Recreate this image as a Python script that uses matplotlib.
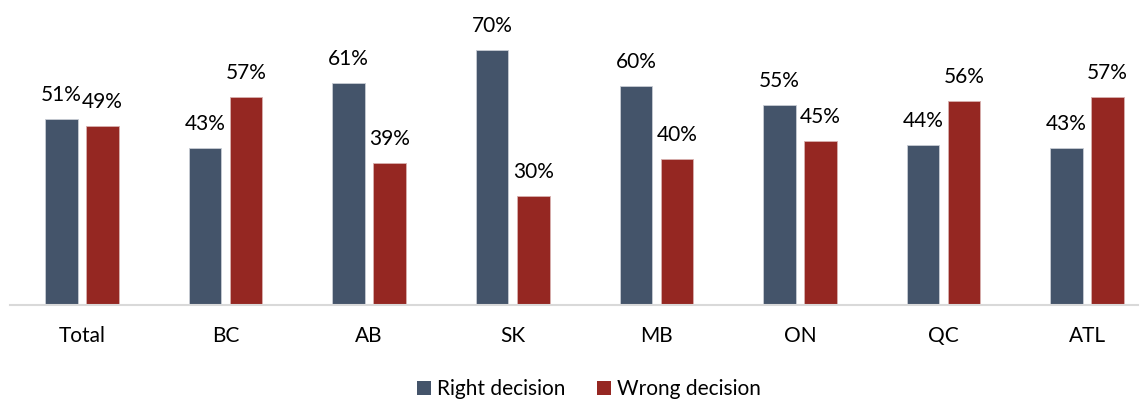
import matplotlib
matplotlib.use("Agg")
import matplotlib.pyplot as plt
from matplotlib.patches import Patch
import numpy as np

categories = ["Total", "BC", "AB", "SK", "MB", "ON", "QC", "ATL"]
right_decision = [51, 43, 61, 70, 60, 55, 44, 43]
wrong_decision = [49, 57, 39, 30, 40, 45, 56, 57]
series_names = ["Right decision", "Wrong decision"]
colors = ["#44546A", "#952722"]

plt.rcParams['font.family'] = ['Lato', 'DejaVu Sans']

FS = 15
W, H = 1148, 400
fig = plt.figure(figsize=(W / 100, H / 100), dpi=100)
# axes: left 10px, right 1138px, baseline y=305, top y=0
ax = fig.add_axes([10 / W, (H - 305) / H, 1128 / W, 305 / H])

x = np.arange(len(categories))
bw = 0.226
off = 0.143
b1 = ax.bar(x - off, right_decision, bw, color=colors[0], edgecolor="#c8ccd4", linewidth=0.6)
b2 = ax.bar(x + off, wrong_decision, bw, color=colors[1], edgecolor="#d8b0ae", linewidth=0.6)

for bars, vals in ((b1, right_decision), (b2, wrong_decision)):
    for rect, v in zip(bars, vals):
        ax.annotate(f"{v}%", (rect.get_x() + rect.get_width() / 2, rect.get_height()),
                    xytext=(0, 13), textcoords="offset points",
                    ha="center", va="baseline", fontsize=FS, color="#000000")

ax.set_xlim(-0.501, 7.354)
ax.set_ylim(0, 83.7)
ax.set_xticks(x)
ax.set_xticklabels(categories, fontsize=FS)
ax.tick_params(axis="x", length=0, pad=15)
ax.set_yticks([])
for s in ["top", "right", "left"]:
    ax.spines[s].set_visible(False)
ax.spines["bottom"].set_color("#d9d9d9")
ax.spines["bottom"].set_linewidth(1.5)

handles = [Patch(facecolor=c, edgecolor="none") for c in colors]
fig.legend(handles, series_names, loc="center", bbox_to_anchor=(589 / W, 1 - 389 / H),
           ncol=2, frameon=False, fontsize=FS, handlelength=0.67, handleheight=0.67,
           handletextpad=0.3, columnspacing=1.5, borderpad=0)

fig.savefig("out.png", dpi=100)
